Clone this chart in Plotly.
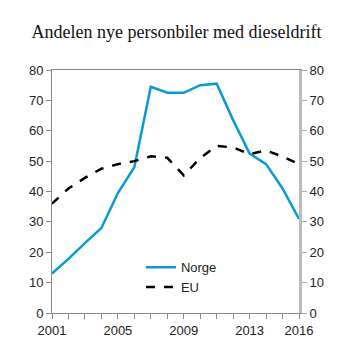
import plotly.graph_objects as go

years = list(range(2001, 2017))
norge = [13, 17.8, 23, 28, 39.5, 48, 74.5, 72.5, 72.5, 75, 75.5, 63.5, 52.5, 49, 41, 31]
eu = [36, 41, 44.5, 47.5, 49, 50, 51.6, 51.1, 45.3, 51, 55, 54.5, 52.3, 53.5, 51.5, 49]
xlabels = [2001, 2005, 2009, 2013, 2016]
yticks = [0, 10, 20, 30, 40, 50, 60, 70, 80]

fig = go.Figure()
fig.add_trace(go.Scatter(x=years, y=norge, name="Norge", mode="lines",
                         line=dict(color="#0a9ad6", width=2.5)))
fig.add_trace(go.Scatter(x=years, y=eu, name="EU", mode="lines",
                         line=dict(color="#000000", width=2.5, dash="dash")))
fig.add_trace(go.Scatter(x=years, y=eu, yaxis="y2", showlegend=False,
                         mode="lines", line=dict(width=0), hoverinfo="skip"))

tickfont = dict(family="Liberation Sans, Arial, sans-serif", size=13, color="#222")
fig.update_layout(
    width=353, height=353,
    margin=dict(l=52, r=54, t=70, b=40),
    paper_bgcolor="white", plot_bgcolor="white",
    title=dict(text="Andelen nye personbiler med dieseldrift",
               font=dict(family="Liberation Serif, Times New Roman, serif", size=18, color="#111"),
               x=0.5, xanchor="center", y=0.91, yanchor="middle"),
    showlegend=True,
    legend=dict(x=0.36, y=0.25, xanchor="left", yanchor="top",
                bgcolor="rgba(0,0,0,0)", font=tickfont, tracegroupgap=0),
    xaxis=dict(range=[2001, 2016], tickvals=xlabels, ticks="outside", ticklen=5,
               tickcolor="#888", showline=True, linecolor="#888", linewidth=1,
               mirror=True, showgrid=False, zeroline=False, tickfont=tickfont,
               minor=dict(ticks="outside", dtick=1, tick0=2001, ticklen=5, tickcolor="#888")),
    yaxis=dict(range=[0, 80], tickvals=yticks, ticks="outside", ticklen=5,
               tickcolor="#888", showline=True, linecolor="#888", linewidth=1,
               showgrid=False, zeroline=False, tickfont=tickfont),
    yaxis2=dict(range=[0, 80], tickvals=yticks, ticks="outside", ticklen=5,
                tickcolor="#aaa", showline=True, linecolor="#bbb", linewidth=3,
                overlaying="y", side="right", showgrid=False, zeroline=False,
                tickfont=tickfont),
)
fig.write_html("out.html")
